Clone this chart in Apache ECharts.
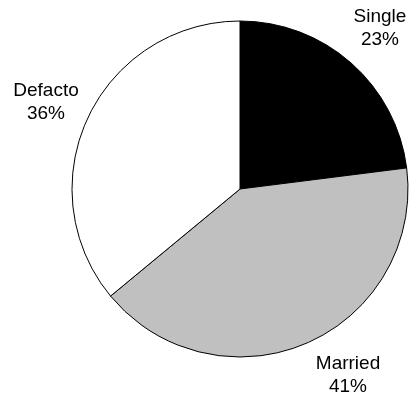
<!DOCTYPE html>
<html><head><meta charset="utf-8">
<script src="https://cdn.jsdelivr.net/npm/echarts@6/dist/echarts.min.js"></script>
<style>html,body{margin:0;padding:0;background:#fff}#c{width:410px;height:397px}</style>
</head><body><div id="c"></div>
<script>
const categories = ['Single', 'Married', 'Defacto'];
const values = [23, 41, 36];
const colors = ['#000000', '#c0c0c0', '#ffffff'];
const labelPos = [[380, 28], [348, 375], [46, 102]];

const chart = echarts.init(document.getElementById('c'), null, {renderer: 'canvas'});
chart.setOption({
  animation: false,
  backgroundColor: '#ffffff',
  series: [{
    type: 'pie',
    center: [240, 189],
    radius: [0, 168],
    startAngle: 90,
    clockwise: true,
    avoidLabelOverlap: false,
    data: categories.map((c, i) => ({name: c, value: values[i], itemStyle: {color: colors[i]}})),
    itemStyle: {borderColor: '#000', borderWidth: 1},
    emphasis: {disabled: true},
    label: {
      show: true,
      position: 'inside',
      overflow: 'none',
      formatter: p => p.name + '\n' + Math.round(p.percent) + '%',
      fontFamily: 'Liberation Sans, Arial, sans-serif',
      fontSize: 19,
      lineHeight: 23,
      color: '#000',
      align: 'center'
    },
    labelLine: {show: false},
    labelLayout: function (params) {
      const p = labelPos[params.dataIndex];
      return {x: p[0], y: p[1], align: 'center', verticalAlign: 'middle', hideOverlap: false};
    }
  }]
});
</script></body></html>
